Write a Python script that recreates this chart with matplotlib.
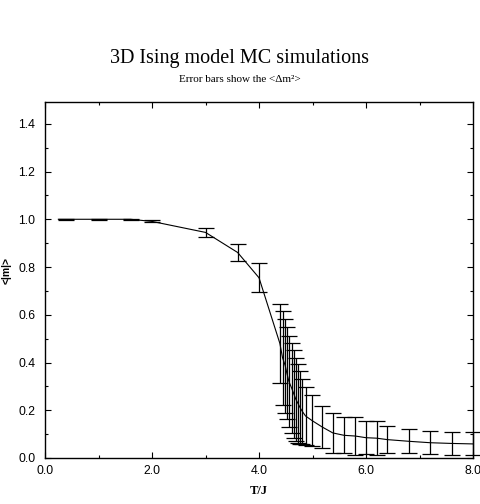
import matplotlib
matplotlib.use('Agg')
import matplotlib.pyplot as plt
from matplotlib.ticker import MultipleLocator, FormatStrFormatter

# temperature T/J, mean |m| and the <dm^2> error bar half-height
T = [0.4, 1.0, 1.6, 2.0, 3.0, 3.6, 4.0,
     4.39, 4.44, 4.49, 4.52, 4.56, 4.61, 4.65, 4.69, 4.73, 4.77, 4.81, 4.87, 4.99,
     5.18, 5.38, 5.59, 5.8, 6.0, 6.2, 6.4, 6.8, 7.2, 7.6, 8.0]
m = [1.0, 1.0, 1.0, 0.991, 0.945, 0.861, 0.755,
     0.48, 0.42, 0.387, 0.356, 0.32, 0.293, 0.269, 0.245, 0.228, 0.21, 0.195, 0.176, 0.157,
     0.13, 0.105, 0.095, 0.092, 0.085, 0.083, 0.077, 0.07, 0.064, 0.061, 0.059]
err = [0.002, 0.002, 0.002, 0.004, 0.018, 0.035, 0.061,
       0.167, 0.196, 0.197, 0.194, 0.189, 0.187, 0.184, 0.174, 0.165, 0.153, 0.137, 0.12, 0.107,
       0.089, 0.085, 0.075, 0.078, 0.07, 0.07, 0.058, 0.05, 0.049, 0.047, 0.048]

# the drawn curve starts a little left of the first point
curve_T = [0.25] + T
curve_m = [1.0] + m

xticks = [0, 2, 4, 6, 8]
yticks = [0.0, 0.2, 0.4, 0.6, 0.8, 1.0, 1.2, 1.4]

fig = plt.figure(figsize=(4.8, 5.04), dpi=100)
ax = fig.add_axes([45/480, 1 - 458/504, 428/480, (458 - 102.3)/504])

ax.plot(curve_T, curve_m, color='black', lw=0.8)
ax.errorbar(T, m, yerr=err, fmt='none', ecolor='black', elinewidth=0.9,
            capsize=5.8, capthick=0.9, clip_on=False)

ax.set_xlim(0, 8)
ax.set_ylim(0, 1.49)
ax.set_xticks(xticks)
ax.set_yticks(yticks)
ax.xaxis.set_minor_locator(MultipleLocator(1))
ax.yaxis.set_minor_locator(MultipleLocator(0.1))
ax.xaxis.set_major_formatter(FormatStrFormatter('%.1f'))
ax.yaxis.set_major_formatter(FormatStrFormatter('%.1f'))
ax.tick_params(which='both', direction='in', top=True, right=True, width=0.8)
ax.tick_params(which='major', length=4)
ax.tick_params(which='minor', length=2.3)
ax.tick_params(axis='x', pad=5)
ax.tick_params(axis='y', pad=7)
for lab in ax.get_xticklabels() + ax.get_yticklabels():
    lab.set_family('Liberation Sans')
    lab.set_fontsize(8.8)
for spine in ax.spines.values():
    spine.set_linewidth(1.0)

ax.set_xlabel('T/J', family='Liberation Serif', weight='bold', fontsize=9)
ax.xaxis.set_label_coords(0.5, -0.075)
ax.set_ylabel('<|m|>', family='Liberation Sans', weight='bold', fontsize=7.5)
ax.yaxis.set_label_coords(-0.078, 0.528)

fig.text(0.5, 1 - 58/504, '3D Ising model MC simulations', ha='center', va='center',
         family='Liberation Serif', fontsize=14.5)
fig.text(0.5, 1 - 80/504, 'Error bars show the <\u0394m\u00b2>', ha='center', va='center',
         family='Liberation Serif', fontsize=8)

fig.savefig('out.png', dpi=100)
